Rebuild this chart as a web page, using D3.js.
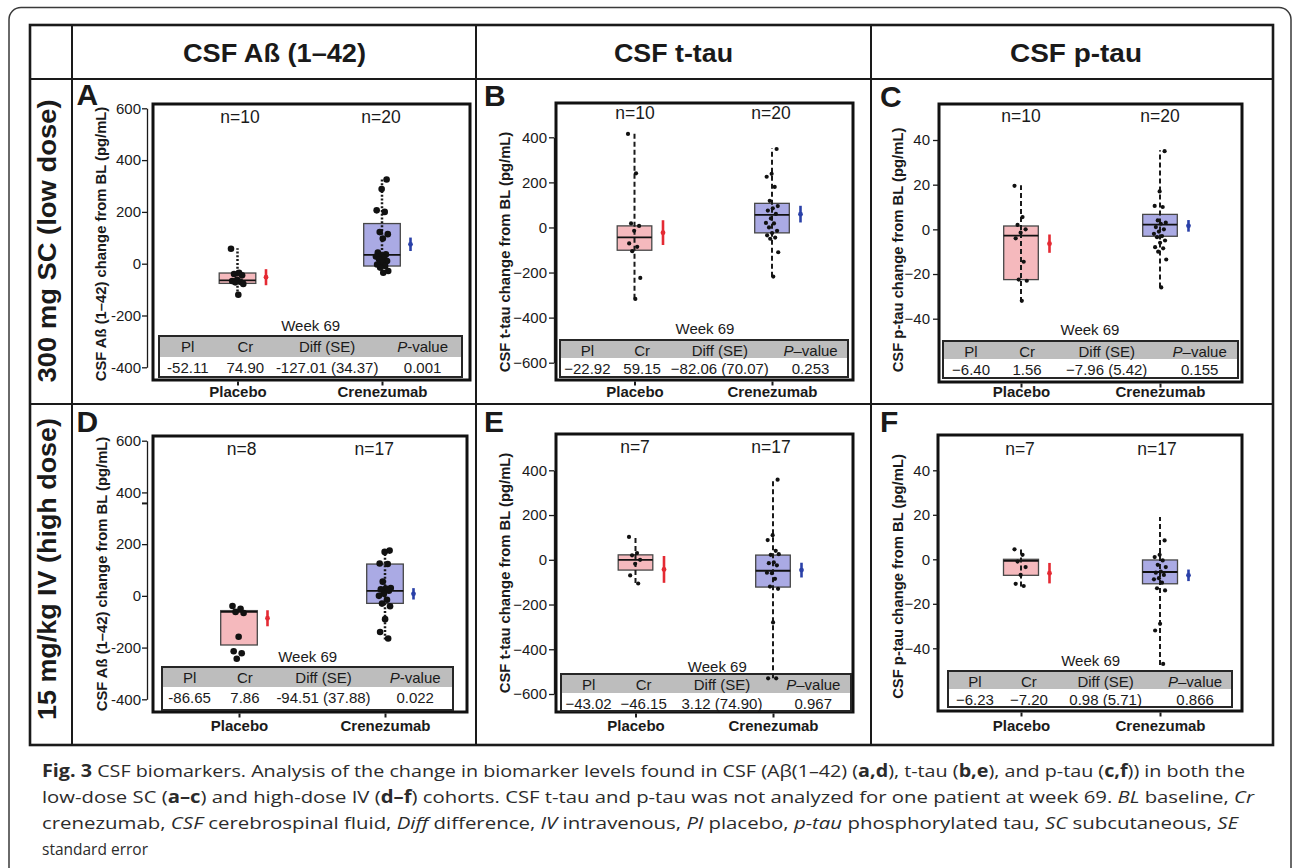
<!DOCTYPE html>
<html>
<head>
<meta charset="utf-8">
<script src="https://cdn.jsdelivr.net/npm/d3@7"></script>
<style>
  body { margin: 0; background: #fff; }
  svg text { font-family: "Liberation Sans", Arial, sans-serif; fill: #1a1a1a; }
</style>
</head>
<body>
<svg id="fig" width="1292" height="868"></svg>
<script>
// ---- data ----
var headers = ["CSF A\u00df (1\u201342)", "CSF t-tau", "CSF p-tau"];
var rowLabels = ["300 mg SC (low dose)", "15 mg/kg IV (high dose)"];
var groups = ["Placebo", "Crenezumab"];
var yLabels = ["CSF A\u00df (1\u201342) change from BL (pg/mL)",
               "CSF t-tau change from BL (pg/mL)",
               "CSF p-tau change from BL (pg/mL)"];
var tblHead = ["Pl", "Cr", "Diff (SE)"];
var weekLabel = "Week 69";

var ticksAbeta = [-400, -200, 0, 200, 400, 600];
var ticksTtau = [-600, -400, -200, 0, 200, 400];
var ticksPtau = [-40, -20, 0, 20, 40];

// box stats per group: [whisker low, q1, median, q3, whisker high]
// A: Abeta, low dose
var nA = [10, 20];
var ptsA_pl = [58, -35, -40, -45, -62, -67, -70, -72, -78, -120];
var ptsA_cr = [325, 288, 206, 200, 122, 114, 97, 43, 36, 30, 28, 23, 17, 10, 5, -3, -9, -15, -28, -35];
var boxA = [[-122, -76, -64, -36, 60], [-35, -9, 34, 155, 326]];
var meanA = [-52.11, 74.90];
var seA = [31, 26];
var tblA = ["-52.11", "74.90", "-127.01 (34.37)", "0.001"];

// B: t-tau, low dose
var nB = [10, 20];
var ptsB_pl = [415, 240, 18, 7, -15, -71, -86, -105, -224, -317];
var ptsB_cr = [348, 238, 225, 180, 118, 95, 85, 75, 60, 40, 20, 18, 0, -15, -25, -35, -45, -50, -110, -218];
var boxB = [[-316, -101, -44, 7, 418], [-219, -24, 56, 107, 351]];
var meanB = [-22.92, 59.15];
var seB = [55, 37];
var tblB = ["\u221222.92", "59.15", "\u221282.06 (70.07)", "0.253"];

// C: p-tau, low dose
var nC = [10, 20];
var ptsC_pl = [19.5, 5.5, 2, 0, -1.5, -4, -14.5, -22.5, -23, -32];
var ptsC_cr = [35, 17, 10.5, 10, 4, 3, 2.5, 1, 0, -1, -2, -3, -3.5, -5, -6, -8, -8.5, -10, -13.5, -26];
var boxC = [[-32.5, -22.5, -2.8, 1.5, 19.7], [-26, -3.1, 2.1, 6.7, 35.4]];
var meanC = [-6.40, 1.56];
var seC = [4.1, 2.6];
var tblC = ["\u22126.40", "1.56", "\u22127.96 (5.42)", "0.155"];

// D: Abeta, high dose (placebo has no visible whisker)
var nD = [8, 17];
var ptsD_pl = [-39, -50, -62, -66, -158, -214, -222, -243];
var ptsD_cr = [175, 170, 125, 123, 55, 30, 28, 25, 20, 8, 0, -15, -30, -40, -90, -140, -165];
var boxD = [[-62, -190, -62, -57, -62], [-169, -29, 19, 123, 175]];
var meanD = [-86.65, 7.86];
var seD = [31, 22];
var tblD = ["-86.65", "7.86", "-94.51 (37.88)", "0.022"];

// E: t-tau, high dose
var nE = [7, 17];
var ptsE_pl = [102, 30, 20, 0, -18, -70, -106];
var ptsE_cr = [358, 110, 88, 40, 22, 25, -12, -15, -25, -60, -58, -85, -120, -130, -280, -530, -530];
var boxE = [[-104, -46, 0, 22, 104], [-530, -122, -49, 21, 358]];
var meanE = [-43.02, -46.15];
var seE = [60, 33];
var tblE = ["\u221243.02", "\u221246.15", "3.12 (74.90)", "0.967"];

// F: p-tau, high dose
var nF = [7, 17];
var ptsF_pl = [4.5, 2, -1, -3.5, -7, -11, -12];
var ptsF_cr = [8.5, 2, 1, -0.5, -2.5, -3.5, -5.5, -6, -7, -8.5, -9, -10.5, -13, -14, -29, -32, -47];
var boxF = [[-12.2, -7.2, -0.7, 0, 5], [-47.5, -11, -5.7, -0.3, 19]];
var meanF = [-6.23, -7.20];
var seF = [4.6, 2.6];
var tblF = ["\u22126.23", "\u22127.20", "0.98 (5.71)", "0.866"];

var caption = [
  [{t: "Fig. 3", b: 1}, {t: " CSF biomarkers. Analysis of the change in biomarker levels found in CSF (A\u03b2(1\u201342) ("}, {t: "a,d", b: 1},
   {t: "), t-tau ("}, {t: "b,e", b: 1}, {t: "), and p-tau ("}, {t: "c,f", b: 1}, {t: ")) in both the"}],
  [{t: "low-dose SC ("}, {t: "a\u2013c", b: 1}, {t: ") and high-dose IV ("}, {t: "d\u2013f", b: 1},
   {t: ") cohorts. CSF t-tau and p-tau was not analyzed for one patient at week 69. "}, {t: "BL", i: 1}, {t: " baseline, "}, {t: "Cr", i: 1}],
  [{t: "crenezumab, "}, {t: "CSF", i: 1}, {t: " cerebrospinal fluid, "}, {t: "Diff", i: 1}, {t: " difference, "}, {t: "IV", i: 1},
   {t: " intravenous, "}, {t: "Pl", i: 1}, {t: " placebo, "}, {t: "p-tau", i: 1}, {t: " phosphorylated tau, "}, {t: "SC", i: 1},
   {t: " subcutaneous, "}, {t: "SE", i: 1}],
  [{t: "standard error"}]
];

// ---- layout ----
var panels = [
  {key: "A", n: nA, pts: [ptsA_pl, ptsA_cr], box: boxA, mean: meanA, se: seA, tbl: tblA, ticks: ticksAbeta, ylab: yLabels[0],
   fx: [153, 470], fy: [104, 380], ax: 147, yr: [367.3, 108.3], gx: [237.5, 382], bw: 18.3, tp: 1,
   tx: [159, 462], ty: [336, 357, 377], wk: [310.7, 330.7], nx: [240, 381], ny: 123, lt: [76.5, 105], yl: [105.5, 244],
   xly: 397, dash: "2,1.8", dw: 2.5, r: 3.3, minus: "-", pv: "-value"},
  {key: "B", n: nB, pts: [ptsB_pl, ptsB_cr], box: boxB, mean: meanB, se: seB, tbl: tblB, ticks: ticksTtau, ylab: yLabels[1],
   fx: [556, 853], fy: [103, 380], ax: 554, yr: [362.7, 137.3], gx: [634.5, 772], bw: 17.3, tp: 2,
   tx: [560, 848], ty: [340, 358, 377], wk: [705, 334], nx: [635, 771], ny: 119, lt: [484, 106], yl: [510, 252],
   xly: 397, dash: "5,3", dw: 2, r: 2.1, minus: "\u2212", pv: "\u2013value"},
  {key: "C", n: nC, pts: [ptsC_pl, ptsC_cr], box: boxC, mean: meanC, se: seC, tbl: tblC, ticks: ticksPtau, ylab: yLabels[2],
   fx: [939, 1242], fy: [104, 382], ax: 938, yr: [318.7, 140], gx: [1021, 1160], bw: 17.3, tp: 3,
   tx: [943, 1238], ty: [341, 359, 378], wk: [1090, 335], nx: [1021, 1160], ny: 121.5, lt: [880, 106.5], yl: [902.5, 250],
   xly: 397, dash: "5,3", dw: 2, r: 2.1, minus: "\u2212", pv: "\u2013value"},
  {key: "D", n: nD, pts: [ptsD_pl, ptsD_cr], box: boxD, mean: meanD, se: seD, tbl: tblD, ticks: ticksAbeta, ylab: yLabels[0],
   fx: [153, 467], fy: [436, 712], ax: 147, yr: [699.3, 440.7], gx: [239, 385], bw: 18.3, tp: 1,
   tx: [162, 453], ty: [667, 687, 710], wk: [307.7, 661.7], nx: [241.7, 374.3], ny: 455, lt: [76.5, 431.5], yl: [106.5, 574],
   xly: 731, dash: "2,1.8", dw: 2.5, r: 3.3, minus: "-", pv: "-value", brk: true},
  {key: "E", n: nE, pts: [ptsE_pl, ptsE_cr], box: boxE, mean: meanE, se: seE, tbl: tblE, ticks: ticksTtau, ylab: yLabels[1],
   fx: [556, 853], fy: [434, 712], ax: 554, yr: [694, 470.3], gx: [635.5, 773], bw: 17.3, tp: 2,
   tx: [561, 851], ty: [674, 693, 711], wk: [717.3, 671.7], nx: [635, 771], ny: 452.5, lt: [484, 431.5], yl: [510, 573],
   xly: 731, dash: "5,3", dw: 2, r: 2.1, minus: "\u2212", pv: "\u2013value"},
  {key: "F", n: nF, pts: [ptsF_pl, ptsF_cr], box: boxF, mean: meanF, se: seF, tbl: tblF, ticks: ticksPtau, ylab: yLabels[2],
   fx: [938, 1242], fy: [435, 711], ax: 938, yr: [648.3, 470.3], gx: [1021, 1160], bw: 17.5, tp: 3,
   tx: [948, 1232], ty: [671, 689, 707], wk: [1090.7, 665.7], nx: [1020, 1157], ny: 455, lt: [880, 431.5], yl: [902.5, 576.5],
   xly: 731, dash: "5,3", dw: 2, r: 2.1, minus: "\u2212", pv: "\u2013value"}
];

var boxFill = ["#f5b9bd", "#aaaae4"];
var markColor = ["#e42a33", "#2a40a8"];
var tblCols = [0.095, 0.285, 0.555, 0.87];

var svg = d3.select("#fig");

// outer rounded frame
svg.append("rect")
  .attr("x", 9).attr("y", 7.5).attr("width", 1282).attr("height", 900).attr("rx", 12)
  .attr("fill", "none").attr("stroke", "#3a3a3a").attr("stroke-width", 1.5);

// table grid
var grid = svg.append("g").attr("stroke", "#1a1a1a").attr("fill", "none");
grid.append("rect").attr("x", 30).attr("y", 25).attr("width", 1243).attr("height", 720).attr("stroke-width", 2.6);
[72, 476, 871].forEach(function(x) {
  grid.append("line").attr("x1", x).attr("x2", x).attr("y1", 25).attr("y2", 745).attr("stroke-width", 2);
});
[79, 404].forEach(function(y) {
  grid.append("line").attr("x1", 30).attr("x2", 1273).attr("y1", y).attr("y2", y).attr("stroke-width", 2);
});

// column headers
var headX = [274.5, 673.5, 1076], headW = [183, 119, 132];
svg.selectAll("text.head").data(headers).join("text")
  .attr("class", "head")
  .attr("x", function(d, i) { return headX[i]; }).attr("y", 62)
  .attr("text-anchor", "middle").attr("font-size", 25).attr("font-weight", "bold")
  .attr("textLength", function(d, i) { return headW[i]; }).attr("lengthAdjust", "spacingAndGlyphs")
  .text(function(d) { return d; });

// row labels
var rowY = [241, 569], rowW = [283, 302];
svg.selectAll("text.row").data(rowLabels).join("text")
  .attr("class", "row")
  .attr("transform", function(d, i) { return "translate(56," + rowY[i] + ") rotate(-90)"; })
  .attr("text-anchor", "middle").attr("font-size", 25).attr("font-weight", "bold")
  .attr("textLength", function(d, i) { return rowW[i]; }).attr("lengthAdjust", "spacingAndGlyphs")
  .text(function(d) { return d; });

function jit(i) {
  return (((i * 0.6180339) % 1) - 0.5) * 13;
}

function drawPanel(p) {
  var g = svg.append("g");
  var y = d3.scaleLinear().domain([p.ticks[0], p.ticks[p.ticks.length - 1]]).range(p.yr);
  var x = d3.scalePoint().domain(groups).range(p.gx);

  // panel letter
  g.append("text").attr("x", p.lt[0]).attr("y", p.lt[1])
    .attr("font-size", 30).attr("font-weight", "bold").text(p.key);

  // frame
  g.append("rect")
    .attr("x", p.fx[0]).attr("y", p.fy[0])
    .attr("width", p.fx[1] - p.fx[0]).attr("height", p.fy[1] - p.fy[0])
    .attr("fill", "none").attr("stroke", "#111").attr("stroke-width", 3);

  // y axis
  var ya = g.append("g").attr("transform", "translate(" + p.ax + ",0)")
    .call(d3.axisLeft(y).tickValues(p.ticks).tickSize(5).tickSizeOuter(0).tickPadding(p.tp)
      .tickFormat(function(d) { return d < 0 ? p.minus + Math.abs(d) : d; }));
  ya.selectAll("path,line").attr("stroke", "#1a1a1a").attr("stroke-width", 1.3);
  ya.selectAll("text").attr("font-size", 15).attr("font-family", null).attr("fill", "#1a1a1a");
  if (p.brk) {
    g.append("line").attr("x1", p.ax - 5).attr("x2", p.ax + 1)
      .attr("y1", y(400) + 11).attr("y2", y(400) + 11)
      .attr("stroke", "#1a1a1a").attr("stroke-width", 2);
  }

  // y title
  g.append("text")
    .attr("transform", "translate(" + p.yl[0] + "," + p.yl[1] + ") rotate(-90)")
    .attr("text-anchor", "middle").attr("font-size", 14.8).attr("font-weight", "bold")
    .text(p.ylab);

  // x axis
  var xa = g.append("g").attr("transform", "translate(0," + (p.fy[1] + 1.5) + ")")
    .call(d3.axisBottom(x).tickSize(4).tickSizeOuter(0));
  xa.select(".domain").remove();
  xa.selectAll("line").attr("stroke", "#1a1a1a").attr("stroke-width", 2);
  xa.selectAll("text")
    .attr("y", p.xly - p.fy[1] - 1.5).attr("dy", null)
    .attr("font-size", 15).attr("font-weight", "bold").attr("font-family", null).attr("fill", "#1a1a1a");

  // n labels
  g.selectAll("text.n").data(p.n).join("text").attr("class", "n")
    .attr("x", function(d, i) { return p.nx[i]; }).attr("y", p.ny)
    .attr("text-anchor", "middle").attr("font-size", 17.5)
    .text(function(d) { return "n=" + d; });

  // week label
  g.append("text").attr("x", p.wk[0]).attr("y", p.wk[1])
    .attr("text-anchor", "middle").attr("font-size", 15).text(weekLabel);

  // results table (drawn under the marks)
  var tw = p.tx[1] - p.tx[0];
  g.append("rect").attr("x", p.tx[0]).attr("y", p.ty[0])
    .attr("width", tw).attr("height", p.ty[1] - p.ty[0]).attr("fill", "#bdbdbd");
  g.append("rect").attr("x", p.tx[0]).attr("y", p.ty[1])
    .attr("width", tw).attr("height", p.ty[2] - p.ty[1]).attr("fill", "#fff");
  g.append("rect").attr("x", p.tx[0]).attr("y", p.ty[0])
    .attr("width", tw).attr("height", p.ty[2] - p.ty[0])
    .attr("fill", "none").attr("stroke", "#262626").attr("stroke-width", 2);
  g.selectAll("text.th").data(tblHead).join("text").attr("class", "th")
    .attr("x", function(d, i) { return p.tx[0] + tw * tblCols[i]; }).attr("y", p.ty[0] + 15.5)
    .attr("text-anchor", "middle").attr("font-size", 15).text(function(d) { return d; });
  var pv = g.append("text").attr("x", p.tx[0] + tw * tblCols[3]).attr("y", p.ty[0] + 15.5)
    .attr("text-anchor", "middle").attr("font-size", 15);
  pv.append("tspan").attr("font-style", "italic").text("P");
  pv.append("tspan").text(p.pv);
  g.selectAll("text.td").data(p.tbl).join("text").attr("class", "td")
    .attr("x", function(d, i) { return p.tx[0] + tw * tblCols[i]; }).attr("y", p.ty[1] + 15.5)
    .attr("text-anchor", "middle").attr("font-size", 15).text(function(d) { return d; });

  groups.forEach(function(gr, i) {
    var cx = x(gr), b = p.box[i];
    // box
    g.append("rect")
      .attr("x", cx - p.bw).attr("y", y(b[3]))
      .attr("width", 2 * p.bw).attr("height", y(b[1]) - y(b[3]))
      .attr("fill", boxFill[i]).attr("stroke", "#474747").attr("stroke-width", 1.3);
    g.append("line")
      .attr("x1", cx - p.bw).attr("x2", cx + p.bw).attr("y1", y(b[2])).attr("y2", y(b[2]))
      .attr("stroke", "#111").attr("stroke-width", 1.8);
    // whisker
    if (b[4] > b[0]) {
      g.append("line")
        .attr("x1", cx).attr("x2", cx).attr("y1", y(b[0])).attr("y2", y(b[4]))
        .attr("stroke", "#1a1a1a").attr("stroke-width", p.dw).attr("stroke-dasharray", p.dash);
    }
    // points
    g.selectAll("circle.pt" + i).data(p.pts[i]).join("circle").attr("class", "pt" + i)
      .attr("cx", function(d, j) { return cx + jit(j + i * 3); })
      .attr("cy", function(d) { return y(d); })
      .attr("r", p.r).attr("fill", "#111");
    // mean +- SE
    var mx = cx + 28.5;
    g.append("line")
      .attr("x1", mx).attr("x2", mx)
      .attr("y1", y(p.mean[i] - p.se[i])).attr("y2", y(p.mean[i] + p.se[i]))
      .attr("stroke", markColor[i]).attr("stroke-width", 2.6);
    g.append("circle").attr("cx", mx).attr("cy", y(p.mean[i])).attr("r", 2.4).attr("fill", markColor[i]);
  });
}

panels.forEach(drawPanel);

// caption
var capW = [1203, 1212, 1196, 106];
caption.forEach(function(line, k) {
  var t = svg.append("text")
    .attr("x", 42).attr("y", 777 + k * 26)
    .attr("font-size", 17).attr("textLength", capW[k]).attr("lengthAdjust", "spacingAndGlyphs")
    .style("font-family", "'Open Sans', sans-serif").style("fill", "#2b2b2b");
  line.forEach(function(s) {
    t.append("tspan")
      .attr("font-weight", s.b ? "bold" : null)
      .attr("font-style", s.i ? "italic" : null)
      .text(s.t);
  });
});
</script>
</body>
</html>
